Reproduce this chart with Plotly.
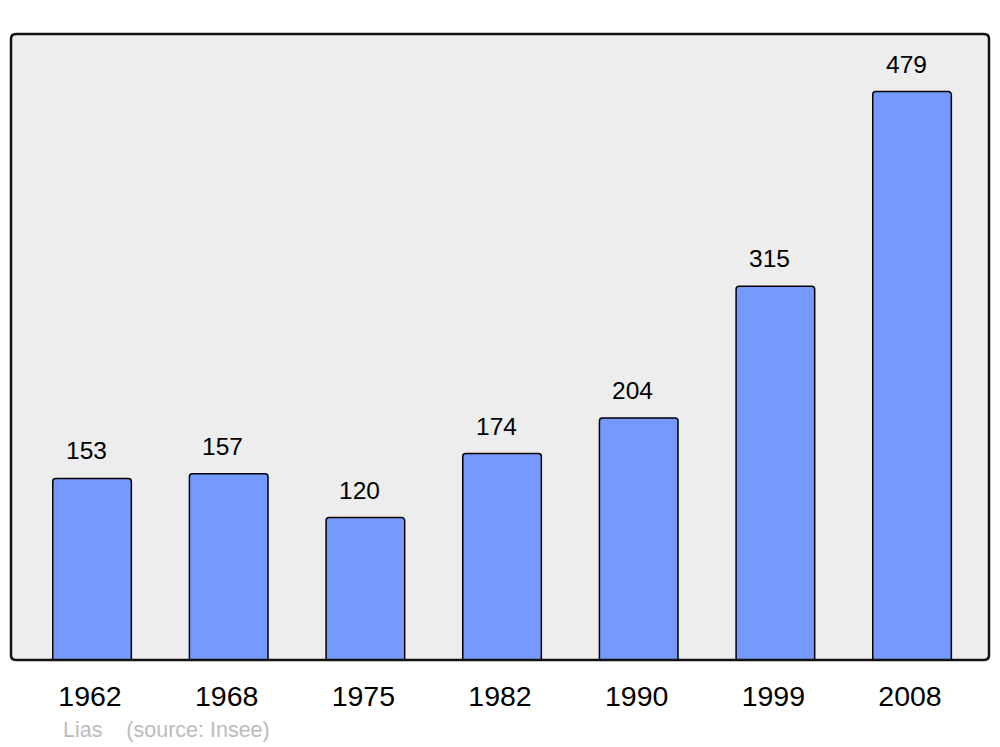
import plotly.graph_objects as go

years = ["1962", "1968", "1975", "1982", "1990", "1999", "2008"]
population = [153, 157, 120, 174, 204, 315, 479]
source_note = "Lias    (source: Insee)"

# page body has an 8px margin: figure is drawn from (8,8)
OFF = 8
W, H = 1000 - OFF, 747 - OFF
L, R, T, B = 11 - OFF, 11, 34 - OFF, 87
pw, ph = W - L - R, H - T - B

fig = go.Figure()
fig.add_trace(go.Bar(
    x=list(range(len(years))), y=population, width=0.575,
    marker=dict(color="#7599ff", line=dict(color="#000000", width=1.5), cornerradius=3),
    hoverinfo="y",
))

for i, v in enumerate(population):
    fig.add_annotation(x=i, y=v, text=str(v), showarrow=False, yanchor="bottom",
                       yshift=12, xshift=-6,
                       font=dict(size=24.5, color="#000000",
                                 family="Liberation Sans, Arial, sans-serif"))

# rounded frame of plot area
r = 5
rx, ry = r / pw, r / ph
path = (f"M {rx},0 L {1-rx},0 Q 1,0 1,{ry} L 1,{1-ry} Q 1,1 {1-rx},1 "
        f"L {rx},1 Q 0,1 0,{1-ry} L 0,{ry} Q 0,0 {rx},0 Z")
fig.add_shape(type="path", xref="paper", yref="paper", path=path,
              line=dict(color="#111111", width=2.5), fillcolor="rgba(0,0,0,0)", layer="above")

fig.add_annotation(xref="paper", yref="paper", x=(61 - 11) / pw, y=-(730 - 34 - ph) / ph,
                   xanchor="left", yanchor="middle", text=source_note, showarrow=False,
                   font=dict(size=21.5, color="#bbbbbb", family="Liberation Sans, Arial, sans-serif"))

fig.update_layout(
    width=W, height=H,
    margin=dict(l=L, r=R, t=T, b=B, pad=0),
    paper_bgcolor="#ffffff", plot_bgcolor="#ededed",
    showlegend=False,
    font=dict(family="Liberation Sans, Arial, sans-serif", color="#000000"),
    xaxis=dict(range=[-0.593, 6.563], showgrid=False, zeroline=False,
               tickmode="array", tickvals=[i - 0.015 for i in range(len(years))], ticktext=years,
               ticks="outside", ticklen=11, tickcolor="rgba(0,0,0,0)",
               tickfont=dict(size=28.5, color="#000000"), fixedrange=True),
    yaxis=dict(range=[0, 527.5], showgrid=False, zeroline=False, showticklabels=False,
               ticks="", fixedrange=True),
)

fig.write_html("out.html")
